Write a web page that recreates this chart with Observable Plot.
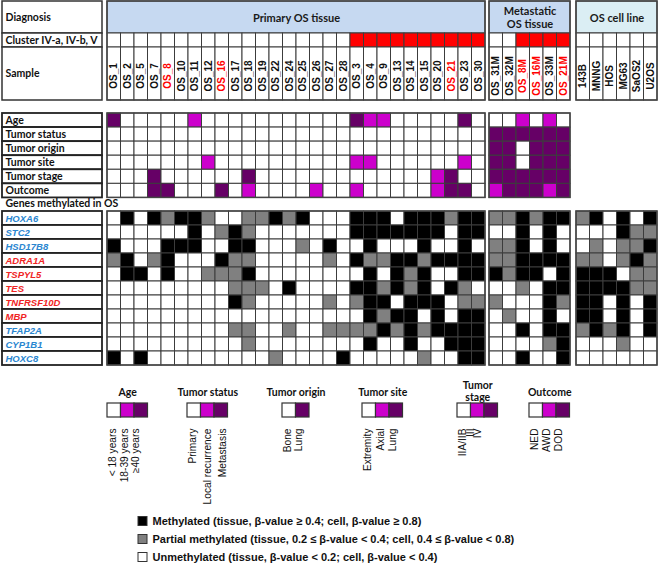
<!DOCTYPE html>
<html><head><meta charset="utf-8">
<script src="https://cdn.jsdelivr.net/npm/d3@7"></script>
<script src="https://cdn.jsdelivr.net/npm/@observablehq/plot@0.6"></script>
<style>body{margin:0;background:#fff} svg{display:block}</style>
</head><body><div id="chart"></div><script>
// ---------------- DATA ----------------
const primarySamples = ["OS_1","OS_2","OS_5","OS_7","OS_8","OS_10","OS_11","OS_12","OS_16","OS_17","OS_18","OS_19","OS_22","OS_24","OS_25","OS_26","OS_27","OS_28","OS_3","OS_4","OS_9","OS_13","OS_14","OS_15","OS_20","OS_21","OS_23","OS_30"];
const metastaticSamples = ["OS_31M","OS_32M","OS_8M","OS_16M","OS_33M","OS_21M"];
const cellLines = ["143B","MNNG","HOS","MG63","SaOS2","U2OS"];
const redSamples = ["OS_8","OS_16","OS_21","OS_8M","OS_16M","OS_21M"];
const panelTitles = ["Primary OS tissue","Metastatic\nOS tissue","OS cell line"];
const headerLabels = ["Diagnosis","Cluster IV-a, IV-b, V","Sample"];

// cluster IV-a, IV-b, V membership (1 = member)
const clusterPrimary = "0000000000000000001111111111";
const clusterMetastatic = "001111";
const clusterCell = "000000";

// clinical: 0 = first category (white), 1 = second (magenta), 2 = third (purple)
const clinicalLabels = ["Age","Tumor status","Tumor origin","Tumor site","Tumor stage","Outcome"];
const clinicalPrimary = [
  "2000001000000000002110000020",
  "0000000000000000000000000000",
  "0000000000000000000000000000",
  "0000000100000000001100000010",
  "0002000000200000000000001200",
  "0002200020100001001000001220"
];
const clinicalMetastatic = ["001010","222222","220222","220222","222222","122212"];

// methylation: 0 = unmethylated, 1 = partial, 2 = methylated
const geneNames = ["HOXA6","STC2","HSD17B8","ADRA1A","TSPYL5","TES","TNFRSF10D","MBP","TFAP2A","CYP1B1","HOXC8"];
const redGenes = ["ADRA1A","TSPYL5","TES","TNFRSF10D","MBP"];
const genePrimary = [
  "0202122100112120002220222122",
  "0000002012100000002222222022",
  "2000222002200010200200020020",
  "1201200021100000102112212222",
  "0220200111200000000202120022",
  "0000000001110200002212120210",
  "0000000002100000101220222011",
  "0000000000000000000212202022",
  "0000000001100100111121212222",
  "0000000000100000000200200222",
  "2020000000001000020000010022"
];
const geneMetastatic = ["112122","002020","112020","112222","212202","001022","100021","010020","002022","000012","002002"];
const geneCell = ["120202","000211","010112","110121","222011","222211","220202","220202","121202","000100","000000"];

const legendTitles = ["Age","Tumor status","Tumor origin","Tumor site","Tumor\nstage","Outcome"];
const legendLabels = [
  ["< 18 years","18-39 years","≥40 years"],
  ["Primary","Local recurrence","Metastasis"],
  ["Bone","Lung"],
  ["Extremity","Axial","Lung"],
  ["IIA/IIB","III","IV"],
  ["NED","AWD","DOD"]
];
const methylLegend = [
  "Methylated (tissue, β-value ≥ 0.4; cell, β-value ≥ 0.8)",
  "Partial methylated (tissue, 0.2 ≤ β-value < 0.4; cell, 0.4 ≤ β-value < 0.8)",
  "Unmethylated (tissue, β-value < 0.2; cell, β-value < 0.4)"
];

// ---------------- LAYOUT / STYLE ----------------
const W = 658, H = 566;
const colW = 13.5;
const labX = [2, 102];
const diagY = [1, 33], clusY = [33, 47], sampY = [47, 100];
const clinY0 = 113, clinH = 14.07;
const geneY0 = 211, geneH = 14.0;
const clinColor = ["#ffffff", "#cc00cc", "#660066"];
const methColor = ["#ffffff", "#808080", "#000000"];
const gridStroke = "#3c3c3c";
const headFont = "Lato, 'Open Sans', sans-serif";
const arial = "'Liberation Sans', Arial, sans-serif";

const panels = [
  {x0: 107, samples: primarySamples, cluster: clusterPrimary, clin: clinicalPrimary, genes: genePrimary, fill: "#c6d9f1"},
  {x0: 489, samples: metastaticSamples, cluster: clusterMetastatic, clin: clinicalMetastatic, genes: geneMetastatic, fill: "#c6d9f1"},
  {x0: 576, samples: cellLines, cluster: clusterCell, clin: null, genes: geneCell, fill: "#dbeef4"}
];
panels.forEach((p, k) => { p.title = panelTitles[k]; p.x1 = p.x0 + p.samples.length * colW; });

const cols = panels.flatMap(p => p.samples.map((s, i) => ({p, s, i, x1: p.x0 + i * colW, x2: p.x0 + (i + 1) * colW})));
const clusterCells = cols.map(c => ({...c, v: +c.p.cluster[c.i]}));
const clinCells = cols.filter(c => c.p.clin).flatMap(c => clinicalLabels.map((lab, r) => ({...c, r, v: +c.p.clin[r][c.i]})));
const geneCells = cols.flatMap(c => geneNames.map((g, r) => ({...c, r, v: +c.p.genes[r][c.i]})));

const headerRows = headerLabels.map((t, k) => ({t, y: [diagY, clusY, sampY][k]}));

// legend layout
const legSwX = [107, 187, 282, 362, 457, 529];
const legLabStep = [11.5, 15, 11, 12.5, 7.5, 12];
const legTitleY = 392, legSwY = [403, 417], legLabY = 428;
const legSwatches = legendLabels.flatMap((labs, g) => labs.map((l, k) => ({g, k, n: labs.length, l})));
const methY0 = 521, methStep = 18;

const chart = Plot.plot({
  width: W, height: H, margin: 0,
  x: {domain: [0, W], range: [0, W], axis: null},
  y: {domain: [0, H], range: [0, H], axis: null},
  color: {type: "identity"},
  style: {fontFamily: arial, background: "#fff"},
  marks: [
    // header label box
    Plot.rect(headerRows, {x1: labX[0], x2: labX[1], y1: d => d.y[0], y2: d => d.y[1], fill: "white", stroke: "#333", strokeWidth: 1.5}),
    Plot.text(headerRows, {x: labX[0] + 3, y: d => (d.y[0] + d.y[1]) / 2, text: "t", textAnchor: "start", fontFamily: headFont, fontWeight: "bold", fontSize: 10.5, fill: "#111"}),
    // panel headers
    Plot.rect(panels, {x1: "x0", x2: "x1", y1: diagY[0], y2: diagY[1], fill: "fill", stroke: "#444", strokeWidth: 1.2}),
    Plot.text(panels, {x: d => (d.x0 + d.x1) / 2, y: (diagY[0] + diagY[1]) / 2, text: "title", fontFamily: headFont, fontWeight: "bold", fontSize: 11, fill: "#1a1a1a", lineHeight: 1.15}),
    // cluster row
    Plot.rect(clusterCells, {x1: "x1", x2: "x2", y1: clusY[0], y2: clusY[1], fill: d => d.v ? "#ff0000" : "#ffffff", stroke: gridStroke, strokeWidth: 1}),
    // sample row
    Plot.rect(cols, {x1: "x1", x2: "x2", y1: sampY[0], y2: sampY[1], fill: "white", stroke: gridStroke, strokeWidth: 1}),
    Plot.text(cols, {x: d => (d.x1 + d.x2) / 2, y: (sampY[0] + sampY[1]) / 2 + 2, text: "s", rotate: -90, fontWeight: "bold", fontSize: 10, fill: d => redSamples.includes(d.s) ? "#ff0000" : "#111"}),
    Plot.rect(panels, {x1: "x0", x2: "x1", y1: diagY[0], y2: sampY[1], fill: "none", stroke: "#444", strokeWidth: 1.5}),

    // clinical label boxes
    Plot.rect(clinicalLabels, {x1: labX[0], x2: labX[1], y1: (d, i) => clinY0 + i * clinH, y2: (d, i) => clinY0 + (i + 1) * clinH, fill: "white", stroke: "#222", strokeWidth: 1.8}),
    Plot.text(clinicalLabels, {x: labX[0] + 3, y: (d, i) => clinY0 + (i + 0.5) * clinH, text: d => d, textAnchor: "start", fontFamily: headFont, fontWeight: "bold", fontSize: 10.5, fill: "#111"}),
    Plot.rect(clinCells, {x1: "x1", x2: "x2", y1: d => clinY0 + d.r * clinH, y2: d => clinY0 + (d.r + 1) * clinH, fill: d => clinColor[d.v], stroke: gridStroke, strokeWidth: 1}),
    Plot.rect(panels.filter(p => p.clin), {x1: "x0", x2: "x1", y1: clinY0, y2: clinY0 + clinicalLabels.length * clinH, fill: "none", stroke: "#444", strokeWidth: 1.5}),

    // genes
    Plot.text(["Genes methylated in OS"], {x: labX[0] + 3, y: geneY0 - 8, text: d => d, textAnchor: "start", fontFamily: headFont, fontWeight: "bold", fontSize: 10.5, fill: "#111"}),
    Plot.rect(geneNames, {x1: labX[0], x2: labX[1], y1: (d, i) => geneY0 + i * geneH, y2: (d, i) => geneY0 + (i + 1) * geneH, fill: "white", stroke: "#222", strokeWidth: 1.8}),
    Plot.text(geneNames, {x: labX[0] + 3, y: (d, i) => geneY0 + (i + 0.5) * geneH, text: d => d, textAnchor: "start", fontWeight: "bold", fontStyle: "italic", fontSize: 9.5, fill: d => redGenes.includes(d) ? "#f02424" : "#2a86d0"}),
    Plot.rect(geneCells, {x1: "x1", x2: "x2", y1: d => geneY0 + d.r * geneH, y2: d => geneY0 + (d.r + 1) * geneH, fill: d => methColor[d.v], stroke: gridStroke, strokeWidth: 1}),
    Plot.rect(panels, {x1: "x0", x2: "x1", y1: geneY0, y2: geneY0 + geneNames.length * geneH, fill: "none", stroke: "#444", strokeWidth: 1.5}),

    // clinical legend
    Plot.text(legendTitles, {x: (d, g) => legSwX[g] + legendLabels[g].length * colW / 2, y: (d, g) => legTitleY - (d.includes("\n") ? 1 : 0), text: d => d, fontFamily: headFont, fontWeight: "bold", fontSize: 10.5, fill: "#111", lineHeight: 1.15}),
    Plot.rect(legSwatches, {x1: d => legSwX[d.g] + d.k * colW, x2: d => legSwX[d.g] + (d.k + 1) * colW, y1: legSwY[0], y2: legSwY[1], fill: d => clinColor[d.n === 2 && d.k === 1 ? 2 : d.k], stroke: "#333", strokeWidth: 1.2}),
    Plot.text(legSwatches, {x: d => legSwX[d.g] + 5.5 + d.k * legLabStep[d.g], y: legLabY, text: "l", rotate: -90, textAnchor: "end", fontSize: 10.2, fill: "#111"}),

    // methylation legend
    Plot.rect(methylLegend, {x1: 138, x2: 147, y1: (d, i) => methY0 + i * methStep - 4.5, y2: (d, i) => methY0 + i * methStep + 4.5, fill: (d, i) => methColor[2 - i], stroke: "#333", strokeWidth: 1}),
    Plot.text(methylLegend, {x: 152, y: (d, i) => methY0 + i * methStep, text: d => d, textAnchor: "start", fontWeight: "bold", fontSize: 11, fill: "#111"})
  ]
});
document.getElementById("chart").append(chart);
</script></body></html>
